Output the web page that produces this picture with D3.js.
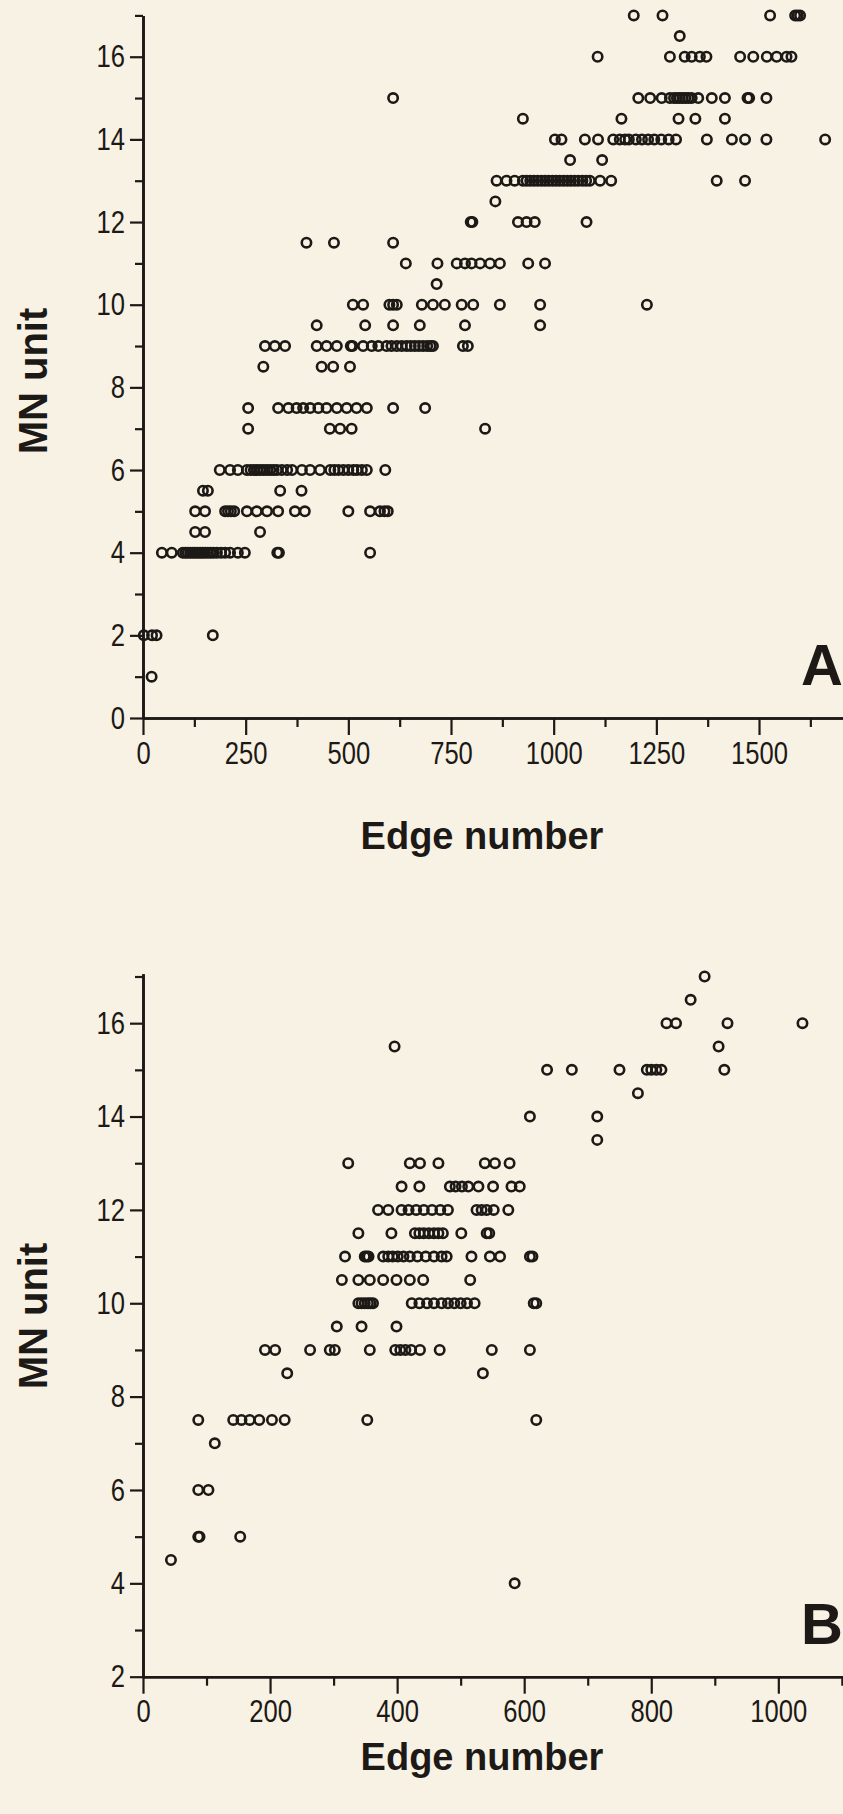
<!DOCTYPE html>
<html>
<head>
<meta charset="utf-8">
<script src="https://cdn.jsdelivr.net/npm/d3@7"></script>
<style>
body { margin: 0; background: #f8f2e4; }
svg { display: block; }
</style>
</head>
<body>
<svg id="chart"></svg>
<script>
// panel A: one MN unit value per row, the edge numbers found on that row
var aUnits = [17, 16.5, 16, 15, 14.5, 14, 13.5, 13, 12.5, 12, 11.5, 11, 10.5, 10, 9.5, 9, 8.5, 7.5, 7, 6, 5.5, 5, 4.5, 4, 2, 1];
var aEdges = [
	[1195, 1265, 1527, 1588, 1594, 1600],
	[1307],
	[1107, 1283, 1319, 1336, 1356, 1372, 1454, 1486, 1519, 1543, 1567, 1579],
	[609, 1206, 1235, 1263, 1283, 1293, 1300, 1307, 1314, 1321, 1328, 1336, 1352, 1385, 1417, 1472, 1476, 1518],
	[925, 1165, 1304, 1345, 1417],
	[1003, 1019, 1076, 1108, 1145, 1161, 1174, 1183, 1200, 1215, 1230, 1245, 1262, 1280, 1298, 1373, 1434, 1466, 1518, 1661],
	[1040, 1118],
	[861, 885, 905, 925, 934, 943, 952, 961, 970, 979, 988, 997, 1006, 1015, 1024, 1033, 1042, 1051, 1060, 1070, 1079, 1088, 1113, 1140, 1397, 1466],
	[858],
	[798, 802, 913, 934, 954, 1080],
	[398, 465, 609],
	[640, 717, 764, 784, 800, 821, 845, 869, 938, 979],
	[715],
	[511, 536, 600, 609, 618, 679, 706, 735, 776, 804, 869, 967, 1227],
	[423, 541, 609, 674, 784, 967],
	[297, 321, 346, 423, 447, 472, 506, 510, 536, 557, 573, 593, 605, 618, 630, 642, 652, 662, 672, 682, 692, 700, 706, 779, 791],
	[293, 435, 463, 504],
	[256, 329, 354, 374, 390, 407, 427, 447, 472, 496, 520, 545, 609, 687],
	[256, 455, 480, 508, 833],
	[187, 212, 231, 253, 262, 270, 278, 286, 294, 302, 310, 318, 326, 338, 351, 363, 387, 407, 431, 456, 466, 476, 488, 500, 512, 521, 533, 545, 590],
	[146, 158, 334, 386],
	[127, 151, 200, 207, 214, 222, 253, 277, 302, 329, 370, 394, 500, 553, 577, 588, 596],
	[127, 151, 285],
	[46, 70, 97, 103, 109, 115, 121, 127, 133, 139, 145, 151, 158, 165, 172, 180, 190, 200, 212, 231, 248, 327, 331, 553],
	[2, 22, 33, 170],
	[21]
];

// panel B
var bUnits = [17, 16.5, 16, 15.5, 15, 14.5, 14, 13.5, 13, 12.5, 12, 11.5, 11, 10.5, 10, 9.5, 9, 8.5, 7.5, 7, 6, 5, 4.5, 4];
var bEdges = [
	[884],
	[862],
	[824, 839, 920, 1038],
	[396, 906],
	[636, 675, 750, 793, 800, 808, 816, 915],
	[779],
	[609, 715],
	[715],
	[323, 420, 436, 465, 538, 554, 577],
	[407, 435, 483, 492, 502, 512, 528, 551, 580, 593],
	[370, 386, 407, 418, 430, 442, 455, 468, 480, 525, 533, 541, 552, 575],
	[339, 391, 428, 435, 442, 450, 458, 465, 472, 501, 541, 545],
	[318, 349, 352, 355, 378, 386, 393, 401, 410, 420, 432, 445, 458, 470, 478, 517, 546, 562, 609, 613],
	[313, 339, 357, 378, 399, 420, 441, 515],
	[339, 344, 349, 354, 358, 362, 423, 435, 447, 458, 470, 480, 490, 500, 510, 522, 615, 619],
	[305, 344, 399],
	[192, 208, 263, 294, 302, 357, 397, 405, 413, 422, 436, 467, 549, 609],
	[227, 535],
	[87, 142, 155, 168, 183, 203, 223, 353, 619],
	[113],
	[87, 103],
	[87, 89, 153],
	[44],
	[585]
];

var aMajorX = [0, 250, 500, 750, 1000, 1250, 1500];
var aMinorX = [125, 375, 625, 875, 1125, 1375, 1625];
var aMajorY = [0, 2, 4, 6, 8, 10, 12, 14, 16];
var aMinorY = [1, 3, 5, 7, 9, 11, 13, 15, 17];
var bMajorX = [0, 200, 400, 600, 800, 1000];
var bMinorX = [100, 300, 500, 700, 900, 1100];
var bMajorY = [2, 4, 6, 8, 10, 12, 14, 16];
var bMinorY = [3, 5, 7, 9, 11, 13, 15, 17];

var width = 843;
var height = 1814;
var ink = '#1c1916';
var font = '"Liberation Sans", Arial, Helvetica, sans-serif';
var squeeze = 0.8; // tick digits in the source are a condensed face

var svg = d3.select('#chart')
	.attr('width', width)
	.attr('height', height);

function toPoints(units, edges) {
	var pts = [];
	for (var i = 0; i < units.length; i++) {
		for (var j = 0; j < edges[i].length; j++) {
			pts.push({edge: edges[i][j], mn: units[i]});
		}
	}
	return pts;
}

function styleAxis(g) {
	g.select('.domain').attr('stroke', ink).attr('stroke-width', 2.6);
	g.selectAll('.tick line').attr('stroke', ink).attr('stroke-width', 2.2);
	g.selectAll('.tick text')
		.attr('fill', ink)
		.style('font-family', font)
		.style('font-size', '32px');
}

function drawPanel(p) {
	var xScale = d3.scaleLinear().domain(p.xDomain).range([143, width]);
	var yScale = d3.scaleLinear().domain(p.yDomain).range(p.yRange);
	var g = svg.append('g');

	// minor ticks first, no labels
	g.append('g')
		.attr('transform', 'translate(0,' + p.yRange[0] + ')')
		.call(d3.axisBottom(xScale).tickValues(p.minorX).tickSize(9).tickSizeOuter(0).tickFormat(''))
		.call(styleAxis);
	g.append('g')
		.attr('transform', 'translate(0,' + p.yRange[0] + ')')
		.call(d3.axisBottom(xScale).tickValues(p.majorX).tickSize(17).tickSizeOuter(0).tickPadding(6).tickFormat(d3.format('d')))
		.call(styleAxis)
		.selectAll('.tick text')
		.attr('transform', 'scale(' + squeeze + ',1)');

	g.append('g')
		.attr('transform', 'translate(143,0)')
		.call(d3.axisLeft(yScale).tickValues(p.minorY).tickSize(8).tickSizeOuter(0).tickFormat(''))
		.call(styleAxis);
	g.append('g')
		.attr('transform', 'translate(143,0)')
		.call(d3.axisLeft(yScale).tickValues(p.majorY).tickSize(13).tickSizeOuter(0).tickPadding(5).tickFormat(d3.format('d')))
		.call(styleAxis)
		.selectAll('.tick text')
		.attr('x', -18 / squeeze)
		.attr('transform', 'scale(' + squeeze + ',1)');

	g.selectAll('circle')
		.data(toPoints(p.units, p.edges))
		.enter()
		.append('circle')
		.attr('cx', d => xScale(d.edge))
		.attr('cy', d => yScale(d.mn))
		.attr('r', 4.7)
		.attr('fill', 'none')
		.attr('stroke', ink)
		.attr('stroke-width', 2.6);

	g.append('text')
		.attr('x', 482)
		.attr('y', p.xLabelY)
		.attr('text-anchor', 'middle')
		.attr('fill', ink)
		.style('font-family', font)
		.style('font-weight', 'bold')
		.style('font-size', '38px')
		.text('Edge number');

	g.append('text')
		.attr('transform', 'translate(47,' + p.yLabel + ') rotate(-90)')
		.attr('text-anchor', 'middle')
		.attr('fill', ink)
		.style('font-family', font)
		.style('font-weight', 'bold')
		.style('font-size', '40px')
		.text('MN unit');

	g.append('text')
		.attr('x', 843)
		.attr('y', p.yRange[0] - 33)
		.attr('text-anchor', 'end')
		.attr('fill', ink)
		.style('font-family', font)
		.style('font-weight', 'bold')
		.style('font-size', '58px')
		.text(p.letter);
}

drawPanel({
	units: aUnits, edges: aEdges,
	xDomain: [0, 1704.5], yDomain: [0, 17], yRange: [718, 15.4],
	majorX: aMajorX, minorX: aMinorX, majorY: aMajorY, minorY: aMinorY,
	xLabelY: 849, yLabel: 381, letter: 'A'
});

drawPanel({
	units: bUnits, edges: bEdges,
	xDomain: [0, 1101.8], yDomain: [2, 17.06], yRange: [1676.7, 973.7],
	majorX: bMajorX, minorX: bMinorX, majorY: bMajorY, minorY: bMinorY,
	xLabelY: 1770, yLabel: 1316, letter: 'B'
});
</script>
</body>
</html>
